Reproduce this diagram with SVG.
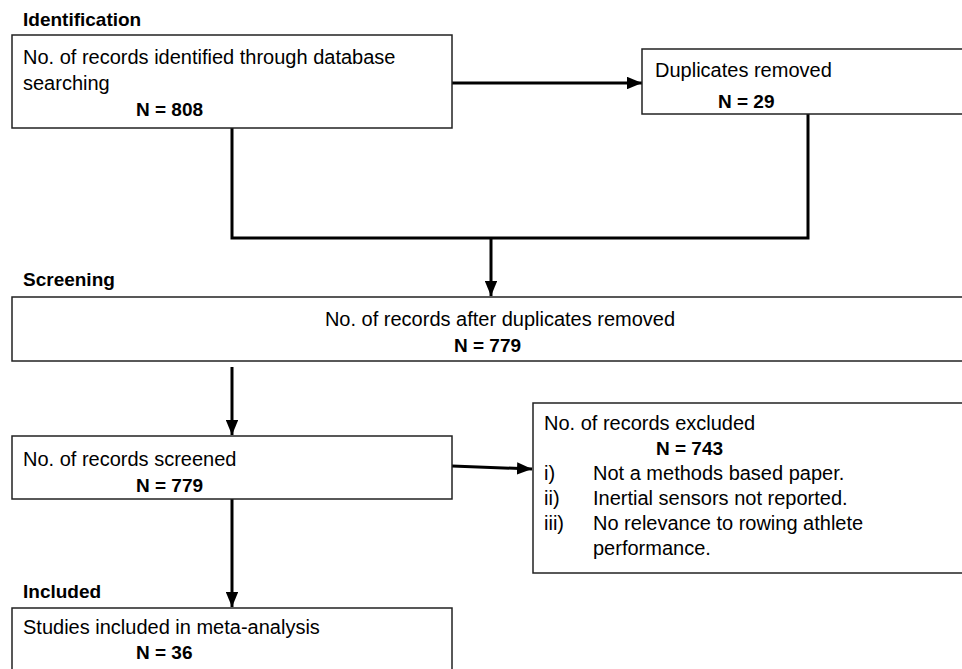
<svg xmlns="http://www.w3.org/2000/svg" width="962" height="669" viewBox="0 0 962 669">
<style>
text{font-family:"Liberation Sans",Arial,sans-serif;font-size:20px;fill:#000}
.b{font-weight:bold;font-size:19px}
.h{font-weight:bold;font-size:19px}
.box{fill:#fff;stroke:#222;stroke-width:1.5}
.c{fill:none;stroke:#000;stroke-width:3}
</style>
<defs>
<marker id="ah" viewBox="0 0 12 10" refX="12" refY="5" markerWidth="5" markerHeight="4.2" orient="auto" markerUnits="strokeWidth">
<path d="M0,0 L12,5 L0,10 z" fill="#000"/>
</marker>
</defs>
<rect width="962" height="669" fill="#fff"/>
<text class="h" x="23" y="26">Identification</text>
<text class="h" x="23" y="286">Screening</text>
<text class="h" x="23" y="598">Included</text>
<g id="connectors">
<line class="c" x1="452" y1="83" x2="642" y2="83" marker-end="url(#ah)"/>
<polyline class="c" points="232,128 232,238 808,238 808,114"/>
<line class="c" x1="491" y1="238" x2="491" y2="296" marker-end="url(#ah)"/>
<line class="c" x1="232" y1="367" x2="232" y2="435" marker-end="url(#ah)"/>
<line class="c" x1="452" y1="466" x2="532" y2="469" marker-end="url(#ah)"/>
<line class="c" x1="232" y1="499" x2="232" y2="607" marker-end="url(#ah)"/>
</g>
<g id="identified">
<rect class="box" x="12" y="35" width="440" height="93"/>
<text x="23" y="64">No. of records identified through database</text>
<text x="23" y="90">searching</text>
<text class="b" x="136" y="116">N = 808</text>
</g>
<g id="duplicates">
<rect class="box" x="642" y="49" width="330" height="65"/>
<text x="655" y="77">Duplicates removed</text>
<text class="b" x="718" y="108">N = 29</text>
</g>
<g id="after-duplicates">
<rect class="box" x="12" y="297" width="960" height="64"/>
<text x="500" y="326" text-anchor="middle">No. of records after duplicates removed</text>
<text class="b" x="454" y="352">N = 779</text>
</g>
<g id="screened">
<rect class="box" x="12" y="436" width="440" height="63"/>
<text x="23" y="466">No. of records screened</text>
<text class="b" x="136" y="492">N = 779</text>
</g>
<g id="excluded">
<rect class="box" x="533" y="403" width="440" height="170"/>
<text x="544" y="430">No. of records excluded</text>
<text class="b" x="656" y="455">N = 743</text>
<text x="544" y="480">i)</text><text x="593" y="480">Not a methods based paper.</text>
<text x="544" y="505">ii)</text><text x="593" y="505">Inertial sensors not reported.</text>
<text x="544" y="530">iii)</text><text x="593" y="530">No relevance to rowing athlete</text>
<text x="593" y="555">performance.</text>
</g>
<g id="included">
<rect class="box" x="12" y="608" width="440" height="70"/>
<text x="23" y="634">Studies included in meta-analysis</text>
<text class="b" x="136" y="659">N = 36</text>
</g>
</svg>
